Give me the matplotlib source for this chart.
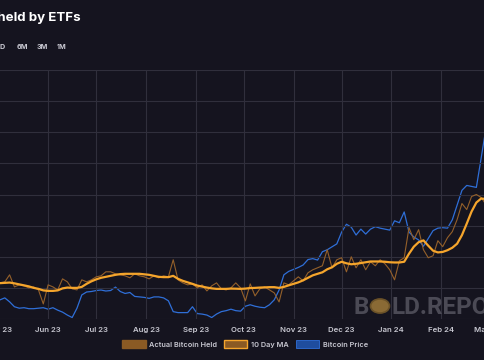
import matplotlib
matplotlib.use("Agg")
import matplotlib.pyplot as plt
import matplotlib.dates as mdates
from matplotlib.patches import Patch, Circle
import pandas as pd

plt.rcParams['font.family'] = ['Inter', 'DejaVu Sans']

# ---------------- data ----------------
start_date = "2023-05-02"
n_points = 102
step = "3D"

# Bitcoin price (thousand USD)
btc_price = [
    28.7, 29.1, 28.3, 27.3, 27.0, 27.1, 26.9, 26.9, 27.0, 27.1,
    26.8, 27.1, 26.6, 26.2, 25.6, 25.1, 27.0, 29.7, 30.3, 30.4,
    30.6, 30.7, 30.5, 30.6, 31.3, 30.4, 30.0, 30.2, 29.4, 29.3,
    29.2, 29.0, 29.3, 29.3, 29.1, 28.5, 26.3, 26.1, 26.1, 26.1,
    27.3, 25.9, 25.8, 25.6, 25.1, 25.8, 26.3, 26.5, 26.8, 26.5,
    26.4, 27.4, 27.7, 27.4, 27.2, 27.1, 27.7, 28.7, 30.7, 33.8,
    34.5, 34.9, 35.3, 35.8, 36.9, 37.1, 36.8, 38.5, 38.9, 39.5,
    40.1, 42.5, 44.1, 43.5, 41.9, 43.1, 42.1, 43.1, 43.6, 43.3,
    43.1, 42.9, 44.8, 44.4, 46.6, 42.5, 41.5, 40.9, 39.6, 41.2,
    42.8, 43.3, 43.4, 43.3, 45.0, 48.0, 51.0, 52.0, 51.8, 51.6,
    57.6, 63.7,
]

# Actual Bitcoin held (relative units)
btc_held = [
    116.1, 119.4, 141.9, 103.2, 109.7, 106.5, 100.0, 103.2, 93.5, 48.4,
    109.7, 103.2, 93.5, 129.0, 119.4, 96.8, 93.5, 125.8, 119.4, 125.8,
    135.5, 138.7, 151.6, 151.6, 145.2, 141.9, 138.7, 132.3, 145.2, 138.7,
    135.5, 129.0, 138.7, 132.3, 138.7, 135.5, 190.3, 125.8, 116.1, 109.7,
    112.9, 100.0, 109.7, 90.3, 106.5, 116.1, 96.8, 93.5, 100.0, 116.1,
    100.0, 58.1, 112.9, 74.2, 96.8, 103.2, 93.5, 83.9, 54.8, 116.1,
    109.7, 122.6, 135.5, 122.6, 148.4, 158.1, 164.5, 171.0, 222.6, 164.5,
    190.3, 196.8, 151.6, 200.0, 164.5, 190.3, 158.1, 183.9, 171.0, 190.3,
    177.4, 158.1, 125.8, 187.1, 196.8, 293.5, 254.8, 287.1, 222.6, 196.8,
    203.2, 251.6, 232.3, 261.3, 280.6, 319.4, 371.0, 351.6, 393.5, 400.0,
    390.3, 367.7,
]

# 10 day moving average of Bitcoin held
btc_held_ma = [
    115.2, 116.1, 117.1, 114.5, 111.3, 108.1, 104.8, 100.0, 96.8, 91.9,
    90.3, 90.3, 91.9, 98.4, 101.0, 100.0, 100.0, 103.2, 112.9, 121.0,
    127.4, 132.3, 135.5, 138.7, 141.9, 144.2, 145.2, 145.2, 145.2, 145.2,
    143.5, 141.9, 138.7, 135.5, 134.5, 134.5, 138.7, 129.0, 122.6, 117.7,
    112.9, 107.4, 104.2, 101.0, 98.4, 96.8, 96.8, 96.8, 97.7, 97.4,
    96.8, 97.7, 99.4, 100.0, 101.0, 101.6, 102.3, 102.3, 100.0, 103.2,
    108.1, 112.9, 117.7, 124.2, 132.3, 140.3, 145.2, 150.0, 159.7, 166.1,
    177.4, 183.9, 179.0, 175.8, 177.4, 179.7, 182.3, 184.8, 184.8, 184.8,
    183.9, 182.3, 181.6, 181.6, 183.9, 209.7, 232.3, 246.8, 252.6, 235.5,
    219.4, 213.9, 215.5, 221.0, 229.0, 241.9, 269.4, 306.5, 345.2, 374.2,
    387.1, 385.5,
]

series_labels = ["Actual Bitcoin Held", "10 Day MA", "Bitcoin Price"]
title_text = "Bitcoin held by ETFs"
range_buttons = ["YTD", "6M", "3M", "1M"]

dates = pd.date_range(start_date, periods=n_points, freq=step)

# ---------------- style ----------------
BG = "#15141f"
GRID = "#302f3c"
TXT = "#c9c9d2"
C_BLUE = "#2f6fd8"
C_MA = "#f5a52c"
C_ACT = "#94602a"

W, H = 485, 360
# the visible window is a crop of a wider chart: axes extend past the edges
ax_left_px, ax_right_px = -12, 505
t_ref = pd.Timestamp("2023-06-01")
ref_px, px_per_day = 48.1, 1.604
x_lo = t_ref + pd.Timedelta(days=(ax_left_px - ref_px) / px_per_day)
x_hi = t_ref + pd.Timedelta(days=(ax_right_px - ref_px) / px_per_day)

fig = plt.figure(figsize=(W/100, H/100), dpi=100, facecolor=BG)
ax = fig.add_axes([ax_left_px/W, 41/H, (ax_right_px - ax_left_px)/W, 249/H])
ax.set_facecolor(BG)
ax2 = ax.twinx()

ax2.plot(dates, btc_price, color=C_BLUE, lw=0.9, zorder=2)
ax.plot(dates, btc_held, color=C_ACT, lw=0.8, zorder=3)
ax.plot(dates, btc_held_ma, color=C_MA, lw=1.6, zorder=4)
ax.set_zorder(ax2.get_zorder() + 1)
ax.patch.set_visible(False)
ax2.set_facecolor(BG)

ax.set_xlim(x_lo, x_hi)
ax.set_ylim(0, 800)
ax.set_yticks(range(0, 801, 100))
ax2.set_ylim(24.80, 75.51)

ax.xaxis.set_major_locator(mdates.MonthLocator())
ax.xaxis.set_major_formatter(mdates.DateFormatter("%b %y"))
ax.grid(True, color=GRID, lw=0.8)
ax.tick_params(axis='x', length=0, pad=6, labelsize=5.6, labelcolor=TXT)
for lbl in ax.get_xticklabels():
    lbl.set_fontweight('semibold')
ax.tick_params(axis='y', left=False, labelleft=False)
ax2.tick_params(axis='y', right=False, labelright=False)
for a in (ax, ax2):
    for s in a.spines.values():
        s.set_visible(False)

# title and range buttons
fig.text(81/W, 1 - 18/H, title_text, ha='right', va='center',
         color='white', fontsize=9.6, fontweight='bold')
btn_x = [6.5, 22, 42, 62]
for b, bx in zip(range_buttons, btn_x):
    fig.text(bx/W, 1 - 47/H, b, ha='right' if b == "YTD" else 'center',
             va='center', color=TXT, fontsize=5.2, fontweight='bold')

# watermark
wm_col = "#4b4a55"
wm_font = ['Roboto', 'DejaVu Sans']
fig.text(354/W, 1 - 307/H, "B", ha='left', va='center', color=wm_col,
         fontsize=17.5, fontweight='bold', family=wm_font)
fig.patches.append(Circle((380/W, 1 - 306/H), 9.5/W, transform=fig.transFigure,
                          facecolor="#8a6a35", edgecolor="#6b5228", lw=1.2,
                          figure=fig))
fig.text(392/W, 1 - 307/H, "LD.REPORT", ha='left', va='center', color=wm_col,
         fontsize=17.5, fontweight='bold', family=wm_font)

# legend
handles = [
    Patch(facecolor="#8a5a24", edgecolor="#8a5a24"),
    Patch(facecolor="#8a5a24", edgecolor=C_MA, lw=1.0),
    Patch(facecolor="#1f4d9e", edgecolor=C_BLUE, lw=0.6),
]
leg = fig.legend(handles, series_labels, loc='center', bbox_to_anchor=(245/W, 1 - 344/H),
                 ncol=3, frameon=False, fontsize=5.3, labelcolor=TXT,
                 handlelength=3.2, handleheight=1.1, handletextpad=0.5,
                 columnspacing=0.9)
for t in leg.get_texts():
    t.set_fontweight('semibold')

fig.savefig("out.png", dpi=100, facecolor=BG)
